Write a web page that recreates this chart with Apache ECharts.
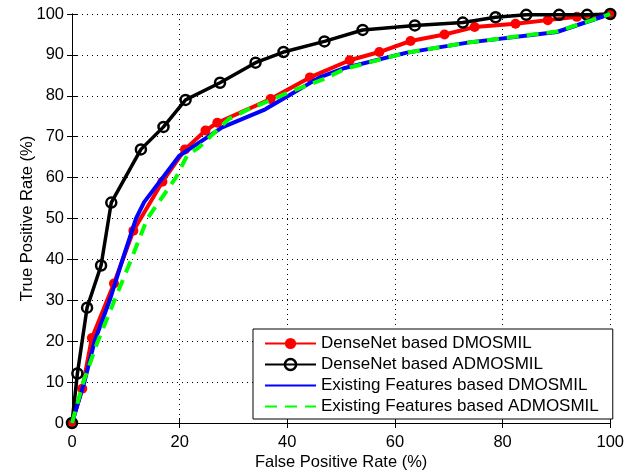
<!DOCTYPE html>
<html>
<head>
<meta charset="utf-8">
<script src="https://cdn.jsdelivr.net/npm/echarts@6/dist/echarts.min.js"></script>
<style>
html,body{margin:0;padding:0;background:#fff;}
#chart{width:627px;height:476px;}
</style>
</head>
<body>
<div id="chart"></div>
<script>
// ROC curves: [false positive rate %, true positive rate %]
const seriesNames = [
  'DenseNet based DMOSMIL',
  'DenseNet based ADMOSMIL',
  'Existing Features based DMOSMIL',
  'Existing Features based ADMOSMIL'
];
const densenetDmosmil = [
  [0,0],[1.9,8.4],[3.7,20.8],[7.8,34.1],[11.4,47.0],[16.8,59.0],[21.0,66.9],
  [24.8,71.5],[27.0,73.4],[36.9,79.2],[44.2,84.5],[51.6,88.7],[57.1,90.7],
  [62.9,93.4],[69.2,95.0],[74.8,96.8],[82.4,97.6],[88.4,98.5],[93.8,99.3],[100,100]
];
const densenetAdmosmil = [
  [0,0],[1.0,12.1],[2.8,28.2],[5.4,38.5],[7.3,53.9],[12.8,66.9],[17.0,72.4],
  [21.1,79.0],[27.5,83.2],[34.1,88.1],[39.3,90.7],[46.9,93.3],[54.0,96.1],
  [63.7,97.2],[72.6,97.9],[78.7,99.2],[84.4,99.8],[90.5,99.8],[95.7,99.8],[100,100]
];
const existingDmosmil = [
  [0,0],[2.3,10],[4.2,20],[7.0,30],[9.4,40],[11.9,50],[13.4,54.0],[19.9,65.3],
  [27.9,72.3],[35.9,76.7],[40.2,80.0],[46.0,84.5],[50.7,86.8],[62.0,90.5],
  [73.5,93.0],[90.1,95.6],[100,100]
];
const existingAdmosmil = [
  [0,0],[2.1,10],[4.8,20],[7.9,30],[11.0,40],[14.0,50],[19.3,60],[21.4,65.4],
  [23.6,67.4],[29.1,74.3],[32.8,76.7],[40.2,80.8],[47.0,84.2],[50.7,86.6],
  [62.0,90.5],[73.5,93.0],[90.1,95.7],[100,100]
];
const xTicks = { min: 0, max: 100, step: 20 };
const yTicks = { min: 0, max: 100, step: 10 };

const FONT = 'Liberation Sans, Arial, Helvetica, sans-serif';
const chart = echarts.init(document.getElementById('chart'), null, { renderer: 'canvas' });

const gridLine = { show: true, lineStyle: { color: '#000', width: 1, type: [1, 4] } };
const tickIn = { show: true, inside: true, length: 5, lineStyle: { color: '#000', width: 1 } };
const axisBlack = { show: true, lineStyle: { color: '#000', width: 1 } };

chart.setOption({
  animation: false,
  backgroundColor: '#fff',
  grid: { left: 72, right: 14, top: 14, bottom: 50, containLabel: false },
  xAxis: [
    {
      type: 'value', min: xTicks.min, max: xTicks.max, interval: xTicks.step,
      position: 'bottom',
      name: 'False Positive Rate (%)', nameLocation: 'middle', nameGap: 31,
      nameMoveOverlap: false,
      nameTextStyle: { fontFamily: FONT, fontSize: 16.5, color: '#000' },
      axisLine: axisBlack, axisTick: tickIn, splitLine: gridLine,
      axisLabel: { fontFamily: FONT, fontSize: 16.5, color: '#000', margin: 11 }
    },
    {
      type: 'value', min: xTicks.min, max: xTicks.max, interval: xTicks.step,
      position: 'top', axisLine: axisBlack, axisTick: tickIn,
      splitLine: { show: false }, axisLabel: { show: false }
    }
  ],
  yAxis: [
    {
      type: 'value', min: yTicks.min, max: yTicks.max, interval: yTicks.step,
      position: 'left',
      name: 'True Positive Rate (%)', nameLocation: 'middle', nameGap: 36,
      nameRotate: 90, nameMoveOverlap: false,
      nameTextStyle: { fontFamily: FONT, fontSize: 16.5, color: '#000' },
      axisLine: axisBlack, axisTick: tickIn, splitLine: gridLine,
      axisLabel: { fontFamily: FONT, fontSize: 16.5, color: '#000', margin: 8 }
    },
    {
      type: 'value', min: yTicks.min, max: yTicks.max, interval: yTicks.step,
      position: 'right', axisLine: axisBlack, axisTick: tickIn,
      splitLine: { show: false }, axisLabel: { show: false }
    }
  ],
  legend: {
    orient: 'vertical',
    left: 253, top: 329,
    padding: [6, 14, 4, 11],
    itemGap: 4,
    itemWidth: 51,
    itemHeight: 14,
    borderColor: '#000', borderWidth: 1,
    backgroundColor: '#fff',
    textStyle: { fontFamily: FONT, fontSize: 17, color: '#000' },
    data: [
      { name: seriesNames[0] },
      { name: seriesNames[1], itemStyle: { color: 'rgba(255,255,255,0)', borderColor: '#000', borderWidth: 2.5 } },
      { name: seriesNames[2], itemStyle: { opacity: 0 } },
      { name: seriesNames[3], itemStyle: { opacity: 0 } }
    ]
  },
  series: [
    {
      name: seriesNames[0], type: 'line', data: densenetDmosmil,
      symbol: 'circle', symbolSize: 10, showAllSymbol: true,
      lineStyle: { color: '#ff0000', width: 4 },
      itemStyle: { color: '#ff0000', borderWidth: 0 }, z: 2
    },
    {
      name: seriesNames[1], type: 'line', data: densenetAdmosmil,
      symbol: 'circle', symbolSize: 10, showAllSymbol: true,
      lineStyle: { color: '#000', width: 3.5 },
      itemStyle: { color: 'rgba(255,255,255,0)', borderColor: '#000', borderWidth: 2.5 }, z: 3
    },
    {
      name: seriesNames[2], type: 'line', data: existingDmosmil,
      symbol: 'none',
      lineStyle: { color: '#0000ff', width: 4 },
      itemStyle: { color: '#0000ff' }, z: 4
    },
    {
      name: seriesNames[3], type: 'line', data: existingAdmosmil,
      symbol: 'none',
      lineStyle: { color: '#00ff00', width: 4, type: [12, 8] },
      itemStyle: { color: '#00ff00' }, z: 5
    }
  ]
});
</script>
</body>
</html>
